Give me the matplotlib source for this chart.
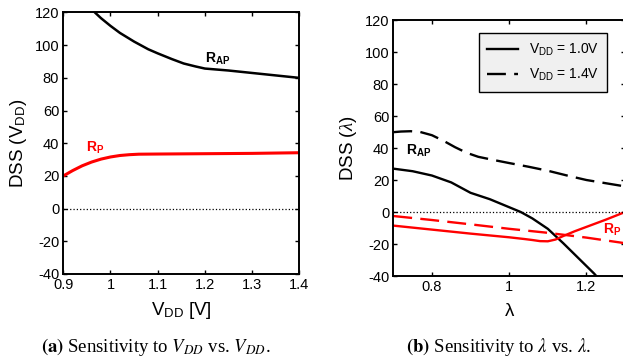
import matplotlib
matplotlib.use('Agg')
import matplotlib.pyplot as plt

plt.rcParams['font.family'] = ['Liberation Sans', 'DejaVu Sans']
plt.rcParams['mathtext.fontset'] = 'custom'
plt.rcParams['mathtext.rm'] = 'Liberation Sans'
plt.rcParams['mathtext.bf'] = 'Liberation Sans:bold'
plt.rcParams['mathtext.it'] = 'Liberation Serif:italic'
plt.rcParams['axes.unicode_minus'] = False

red = '#ff0000'

# (a) sensitivity to VDD vs VDD
vdd = [0.95, 0.967, 0.98, 1.0, 1.02, 1.05, 1.08, 1.1, 1.13, 1.155, 1.18, 1.2, 1.25, 1.3, 1.35, 1.4]
rap_vdd = [126, 120, 116.5, 111.8, 107.5, 102.2, 97.5, 95, 91.5, 88.8, 87, 85.7, 84.5, 83, 81.5, 80]
vdd_p = [0.9, 0.92, 0.94, 0.96, 0.98, 1.0, 1.02, 1.04, 1.06, 1.1, 1.2, 1.3, 1.4]
rp_vdd = [20, 23.3, 26.2, 28.5, 30.3, 31.6, 32.5, 33, 33.3, 33.4, 33.6, 33.8, 34.2]

# (b) sensitivity to lambda vs lambda
lam_ap10 = [0.7, 0.75, 0.8, 0.85, 0.9, 0.95, 1.0, 1.03, 1.06, 1.1, 1.14, 1.18, 1.22, 1.24]
rap_10 = [27.1, 25.5, 22.8, 18.5, 12, 8, 3, 0, -4, -10.5, -19.5, -29, -38.5, -44]
lam_ap14 = [0.7, 0.72, 0.745, 0.77, 0.8, 0.83, 0.86, 0.89, 0.92, 0.96, 1.0,
            1.05, 1.1, 1.15, 1.2, 1.25, 1.3]
rap_14 = [49.9, 50.3, 50.5, 50, 48, 44.5, 40.5, 37, 34.5, 32.5, 30.6,
          28.3, 25.8, 22.8, 20, 18, 16]
lam_p10 = [0.7, 0.8, 0.9, 1.0, 1.04, 1.06, 1.08, 1.1, 1.12, 1.14, 1.17, 1.2, 1.25, 1.3]
rp_10 = [-8.5, -11, -13.5, -15.8, -16.9, -17.5, -18.2, -18.3, -17.2, -15, -12, -9.3, -4.8, 0]
lam_p14 = [0.7, 0.8, 0.9, 1.0, 1.1, 1.2, 1.3]
rp_14 = [-2.5, -5, -7.7, -10.5, -13, -16, -19.5]

yticks = [-40, -20, 0, 20, 40, 60, 80, 100, 120]

fig = plt.figure(figsize=(6.23, 3.6), dpi=100)
ax1 = fig.add_axes([0.1016, 0.2389, 0.3788, 0.7264])
ax2 = fig.add_axes([0.6313, 0.2333, 0.3720, 0.7111])

dash = (0, (8, 3.5))

# panel a
ax1.plot(vdd, rap_vdd, color='black', lw=1.8)
ax1.plot(vdd_p, rp_vdd, color=red, lw=2.2)
ax1.axhline(0, color='black', lw=0.9, ls=':')
ax1.set_xlim(0.9, 1.4)
ax1.set_xticks([0.9, 1.0, 1.1, 1.2, 1.3, 1.4])
ax1.set_xticklabels(['0.9', '1', '1.1', '1.2', '1.3', '1.4'])
ax1.text(1.2, 91.5, r'R$_{\mathbf{AP}}$', fontsize=10, fontweight='bold', va='center')
ax1.text(0.948, 37, r'R$_{\mathbf{P}}$', fontsize=10, fontweight='bold', va='center', color=red)
ax1.set_xlabel(r'V$_{\mathrm{DD}}$ [V]', fontsize=13.5, labelpad=6)
ax1.set_ylabel(r'DSS (V$_{\mathrm{DD}}$)', fontsize=13.5, labelpad=4)

# panel b
l1, = ax2.plot(lam_ap10, rap_10, color='black', lw=1.7, label=r'V$_{\mathrm{DD}}$ = 1.0V')
l2, = ax2.plot(lam_ap14, rap_14, color='black', lw=1.7, ls=dash, label=r'V$_{\mathrm{DD}}$ = 1.4V')
ax2.plot(lam_p10, rp_10, color=red, lw=1.7)
ax2.plot(lam_p14, rp_14, color=red, lw=1.7, ls=dash)
ax2.axhline(0, color='black', lw=0.9, ls=':')
ax2.set_xlim(0.7, 1.3)
ax2.set_xticks([0.8, 1.0, 1.2])
ax2.set_xticklabels(['0.8', '1', '1.2'])
ax2.text(0.732, 38, r'R$_{\mathbf{AP}}$', fontsize=10, fontweight='bold', va='center')
ax2.text(1.244, -11, r'R$_{\mathbf{P}}$', fontsize=10, fontweight='bold', va='center', color=red)
ax2.set_xlabel('λ', fontsize=13.5, labelpad=6)
ax2.set_ylabel(r'DSS ($\lambda$)', fontsize=13.5, labelpad=4)

leg = ax2.legend(handles=[l1, l2], loc='upper left', bbox_to_anchor=(0.37, 0.949),
                 borderaxespad=0, fontsize=10, fancybox=False, framealpha=1,
                 facecolor='#f0f0f0', edgecolor='black', handlelength=2.2,
                 borderpad=0.6, labelspacing=0.7)
leg.get_frame().set_linewidth(1.0)

for ax in (ax1, ax2):
    ax.set_ylim(-40, 120)
    ax.set_yticks(yticks)
    ax.tick_params(direction='in', length=3, width=1.0, labelsize=10.5,
                   top=True, right=True, pad=3)
    for s in ax.spines.values():
        s.set_linewidth(1.4)

fig.text(0.25, 0.035, r'$\mathbf{(a)}$ Sensitivity to $V_{DD}$ vs. $V_{DD}$.',
         ha='center', va='center', fontsize=13.5, math_fontfamily='stix',
         family='Liberation Serif')
fig.text(0.80, 0.035, r'$\mathbf{(b)}$ Sensitivity to $\lambda$ vs. $\lambda$.',
         ha='center', va='center', fontsize=13.5, math_fontfamily='stix',
         family='Liberation Serif')

fig.savefig('out.png', dpi=100)
